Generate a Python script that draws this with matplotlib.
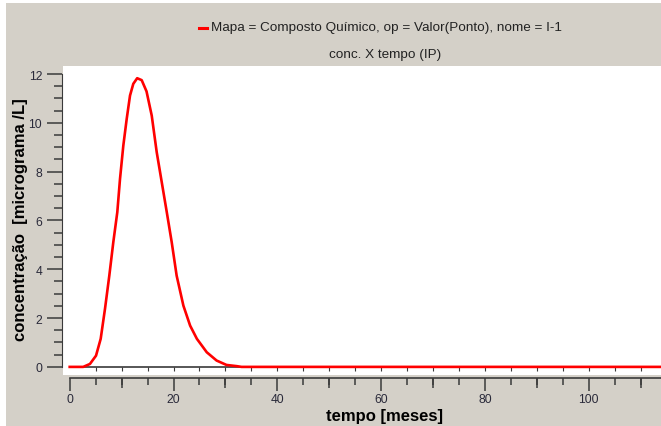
import matplotlib
matplotlib.use("Agg")
import matplotlib.pyplot as plt
from matplotlib.patches import Rectangle
from matplotlib.ticker import MultipleLocator

# dados
tempo = [0, 2.6, 3.9, 5.07, 5.97, 6.8, 7.63, 8.4, 9.17, 9.69, 10.33, 10.98,
         11.62, 12.25, 13.0, 13.87, 14.8, 15.8, 16.76, 17.73, 18.7, 19.65,
         20.6, 21.9, 23.2, 24.5, 26.4, 28.3, 30.2, 32.2, 33.1, 40, 60, 80,
         100, 114]
conc = [0, 0, 0.12, 0.46, 1.15, 2.38, 3.74, 5.11, 6.34, 7.70, 9.07, 10.16,
        11.12, 11.6, 11.83, 11.75, 11.29, 10.3, 8.8, 7.57, 6.34, 5.11,
        3.74, 2.51, 1.69, 1.15, 0.6, 0.26, 0.08, 0.03, 0, 0, 0, 0,
        0, 0]
legenda = "Mapa = Composto Qu\u00edmico, op = Valor(Ponto), nome = I-1"
titulo = "conc. X tempo (IP)"

FONT = ["Liberation Sans", "DejaVu Sans"]
plt.rcParams["font.family"] = FONT
W, H = 661, 427
bg = "#D4D0C8"
tk = "#3a3a3a"

fig = plt.figure(figsize=(W / 100, H / 100), dpi=100)
fig.patch.set_facecolor("white")
fig.patches.append(Rectangle((6 / W, 0), 1, 1 - 4 / H, transform=fig.transFigure,
                             facecolor=bg, edgecolor="none", zorder=-10))

xmin, xmax = -1.29, 113.9
ax = fig.add_axes([63 / W, (H - 375.7) / H, 1 - 63 / W, (375.7 - 67) / H])
ax.set_facecolor("white")
ax.plot(tempo, conc, color="#FF0000", lw=1.9, zorder=5, clip_on=False)
ax.set_xlim(xmin, xmax)
ax.set_ylim(-0.32, 12.33)
for s in ["top", "right"]:
    ax.spines[s].set_visible(False)
ax.spines["left"].set_position(("outward", 1))
ax.spines["left"].set_bounds(0, 12)
ax.spines["left"].set_color(tk)
ax.spines["bottom"].set_position(("data", 0))
ax.spines["bottom"].set_bounds(0, xmax)
ax.spines["bottom"].set_color(tk)
ax.spines["bottom"].set_linewidth(1.2)
ax.set_xticks([v for v in range(5, 115, 5)])
ax.tick_params(axis="x", direction="out", length=3, color=tk, labelbottom=False)
ax.yaxis.set_major_locator(MultipleLocator(2))
ax.yaxis.set_minor_locator(MultipleLocator(0.5))
ax.tick_params(axis="y", which="major", length=11, width=1.1, color=tk,
               labelsize=8.7, labelcolor="#2a2a3a", pad=3)
ax.tick_params(axis="y", which="minor", length=6, width=1.1, color=tk)
ax.set_ylabel("concentra\u00e7\u00e3o  [micrograma /L]", fontsize=12,
              fontweight="bold")
ax.yaxis.set_label_coords(-(63 - 28) / 598, (375.7 - 220) / 308.7)

# eixo x separado, abaixo da área branca
ax2 = fig.add_axes([63 / W, (H - 379) / H, 1 - 63 / W, 0.001])
ax2.set_xlim(xmin, xmax)
ax2.patch.set_visible(False)
for s in ["top", "right", "left"]:
    ax2.spines[s].set_visible(False)
ax2.spines["bottom"].set_bounds(0, xmax)
ax2.spines["bottom"].set_color(tk)
ax2.spines["bottom"].set_linewidth(1.2)
ax2.set_yticks([])
ax2.xaxis.set_major_locator(MultipleLocator(20))
ax2.xaxis.set_minor_locator(MultipleLocator(5))
ax2.tick_params(axis="x", which="major", length=9, width=1.1, color=tk,
                labelsize=8.7, labelcolor="#2a2a3a", pad=2)
ax2.tick_params(axis="x", which="minor", length=5, width=1.1, color=tk)
ax2.set_xlabel("tempo [meses]", fontsize=12, fontweight="bold", labelpad=0)
ax2.xaxis.set_label_coords((385 - 63) / 598, -30 / 0.427)

ax3 = ax2.twiny()
ax3.set_xlim(xmin, xmax)
for s in ax3.spines.values():
    s.set_visible(False)
ax3.xaxis.set_ticks_position("bottom")
ax3.set_xticks([v for v in range(10, 115, 20)])
ax3.tick_params(axis="x", length=7, width=1.1, color=tk, labelbottom=False,
                labeltop=False)

# legenda e título
fig.lines.append(plt.Line2D([199 / W, 207 / W], [1 - 28.7 / H, 1 - 28.7 / H],
                            transform=fig.transFigure, color="#FF0000", lw=2.2))
fig.text(211 / W, 1 - 28.5 / H, legenda, fontsize=9.7, va="center", ha="left",
         color="#222222")
fig.text(384.7 / W, 1 - 54.7 / H, titulo, fontsize=9.7, va="center",
         ha="center", color="#222222")

fig.savefig("out.png", dpi=100, facecolor=fig.get_facecolor())
